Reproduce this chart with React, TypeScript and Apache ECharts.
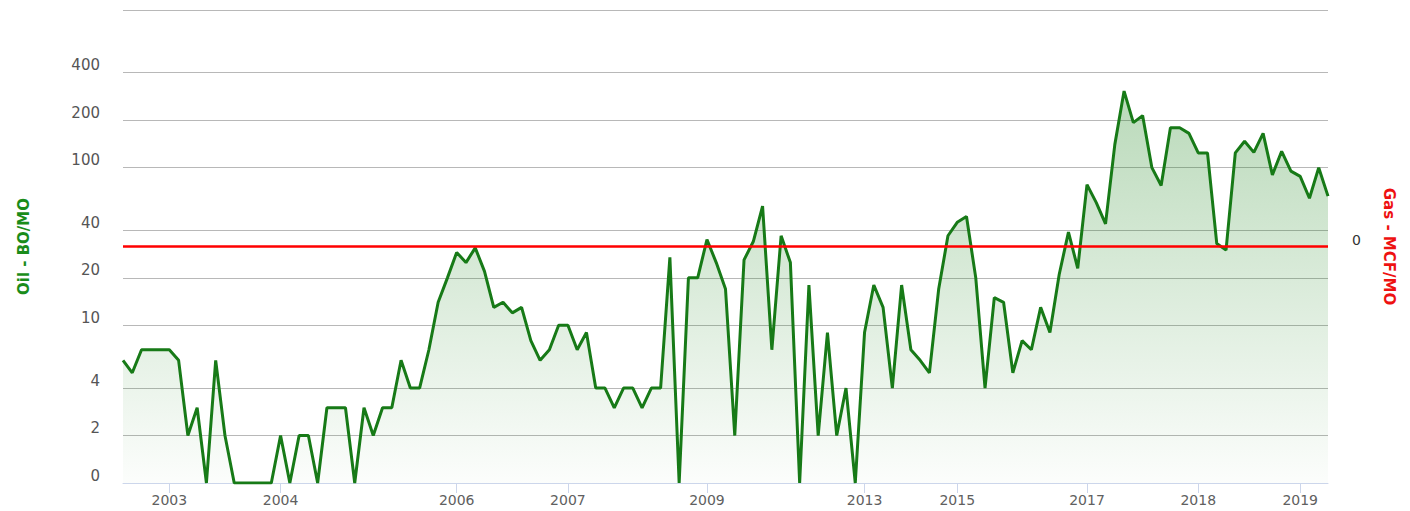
import React, { useEffect, useRef } from 'react';
import * as echarts from 'echarts';

// Monthly oil production (BO/MO), oldest first
const oilValues = [
  6, 5, 7, 7, 7, 7, 6, 2, 3, 0,
  6, 2, 0, 0, 0, 0, 0, 2, 0, 2,
  2, 0, 3, 3, 3, 0, 3, 2, 3, 3,
  6, 4, 4, 7, 14, 20, 29, 25, 31, 22,
  13, 14, 12, 13, 8, 6, 7, 10, 10, 7,
  9, 4, 4, 3, 4, 4, 3, 4, 4, 27,
  0, 20, 20, 35, 25, 17, 2, 26, 34, 57,
  7, 37, 25, 0, 18, 2, 9, 2, 4, 0,
  9, 18, 13, 4, 18, 7, 6, 5, 17, 37,
  45, 49, 20, 4, 15, 14, 5, 8, 7, 13,
  9, 21, 39, 23, 78, 60, 44, 140, 306, 193,
  214, 100, 77, 179, 179, 165, 124, 124, 33, 30,
  124, 147, 125, 165, 90, 127, 95, 88, 64, 100,
  66,
];

// Monthly gas production (MCF/MO): every month is zero
const gasValues = [
  0, 0, 0, 0, 0, 0, 0, 0, 0, 0, 0, 0, 0, 0, 0, 0, 0, 0, 0, 0,
  0, 0, 0, 0, 0, 0, 0, 0, 0, 0, 0, 0, 0, 0, 0, 0, 0, 0, 0, 0,
  0, 0, 0, 0, 0, 0, 0, 0, 0, 0, 0, 0, 0, 0, 0, 0, 0, 0, 0, 0,
  0, 0, 0, 0, 0, 0, 0, 0, 0, 0, 0, 0, 0, 0, 0, 0, 0, 0, 0, 0,
  0, 0, 0, 0, 0, 0, 0, 0, 0, 0, 0, 0, 0, 0, 0, 0, 0, 0, 0, 0,
  0, 0, 0, 0, 0, 0, 0, 0, 0, 0, 0, 0, 0, 0, 0, 0, 0, 0, 0, 0,
  0, 0, 0, 0, 0, 0, 0, 0, 0, 0, 0,
];

// X axis year labels and the month (category index) where each year begins
const yearLabels = ['2003', '2004', '2006', '2007', '2009', '2013', '2015', '2017', '2018', '2019'];
const yearStartIndex = [5, 17, 36, 48, 63, 80, 90, 104, 116, 127];

// Left (logarithmic) axis ticks; the "0" label sits on the log floor (1)
const oilTickValues = [1, 2, 4, 10, 20, 40, 100, 200, 400, 1000];
const oilTickLabels = ['0', '2', '4', '10', '20', '40', '100', '200', '400', ''];

const FONT = '"DejaVu Sans", Arial, sans-serif';

export default function App() {
  const ref = useRef<HTMLDivElement>(null);

  useEffect(() => {
    if (!ref.current) return;
    const chart = echarts.init(ref.current, undefined, { renderer: 'svg' });

    const categories = oilValues.map((_, i) => String(i));
    const logFloor = oilTickValues[0];
    const oilPlot = oilValues.map((v) => Math.log10(Math.max(v, logFloor)));
    const tickPos = oilTickValues.map((v) => Math.log10(v));
    const yearByIndex: Record<number, string> = {};
    yearStartIndex.forEach((idx, k) => {
      yearByIndex[idx] = yearLabels[k];
    });

    chart.setOption({
      animation: false,
      backgroundColor: '#ffffff',
      grid: { left: 123, right: 82, top: 10, bottom: 28, containLabel: false },
      xAxis: {
        type: 'category',
        data: categories,
        boundaryGap: false,
        axisLine: { show: true, lineStyle: { color: '#ccd6eb', width: 1 } },
        axisTick: {
          show: true,
          length: 10,
          interval: (i: number) => yearByIndex[i] !== undefined,
          lineStyle: { color: '#ccd6eb', width: 1 },
        },
        axisLabel: {
          interval: (i: number) => yearByIndex[i] !== undefined,
          formatter: (_v: string, i: number) => yearByIndex[i] ?? '',
          color: '#606060',
          fontSize: 14,
          fontFamily: FONT,
          margin: 10,
          hideOverlap: false,
        },
        splitLine: { show: false },
      },
      yAxis: [
        {
          type: 'value',
          min: tickPos[0],
          max: tickPos[tickPos.length - 1],
          name: 'Oil - BO/MO',
          nameLocation: 'middle',
          nameGap: 92,
          nameTextStyle: { color: '#1a8c1a', fontWeight: 'bold', fontSize: 15, fontFamily: FONT },
          axisLine: { show: false },
          axisTick: { show: false, customValues: tickPos },
          axisLabel: {
            customValues: tickPos,
            formatter: (val: number) => {
              const k = tickPos.findIndex((p) => Math.abs(p - val) < 1e-6);
              return k >= 0 ? oilTickLabels[k] : '';
            },
            color: '#555555',
            fontSize: 15,
            fontFamily: FONT,
            margin: 23,
            verticalAlign: 'bottom',
          },
          splitLine: { show: true, lineStyle: { color: '#b8b8b8', width: 1 } },
        },
        {
          type: 'value',
          min: -1,
          max: 1,
          position: 'right',
          name: 'Gas - MCF/MO',
          nameLocation: 'middle',
          nameRotate: -90,
          nameGap: 53,
          nameTextStyle: { color: '#ee1111', fontWeight: 'bold', fontSize: 15, fontFamily: FONT },
          axisLine: { show: false },
          axisTick: { show: false, customValues: [0] },
          axisLabel: {
            customValues: [0],
            color: '#333333',
            fontSize: 14,
            fontFamily: FONT,
            margin: 24,
            verticalAlign: 'bottom',
          },
          splitLine: { show: false },
        },
      ],
      series: [
        {
          name: 'Oil',
          type: 'line',
          yAxisIndex: 0,
          data: oilPlot,
          symbol: 'none',
          smooth: false,
          lineStyle: { color: '#177a17', width: 3 },
          areaStyle: {
            origin: 'start',
            color: new echarts.graphic.LinearGradient(0, 0, 0, 1, [
              { offset: 0, color: 'rgba(20,128,20,0.42)' },
              { offset: 1, color: 'rgba(20,128,20,0.02)' },
            ]),
          },
          z: 2,
        },
        {
          name: 'Gas',
          type: 'line',
          yAxisIndex: 1,
          data: gasValues,
          symbol: 'none',
          lineStyle: { color: '#ff0000', width: 2.5 },
          z: 3,
        },
      ],
    });

    return () => chart.dispose();
  }, []);

  return (
    <div
      ref={ref}
      style={{ position: 'fixed', left: 0, top: 0, width: 1410, height: 511, background: '#fff' }}
    />
  );
}
